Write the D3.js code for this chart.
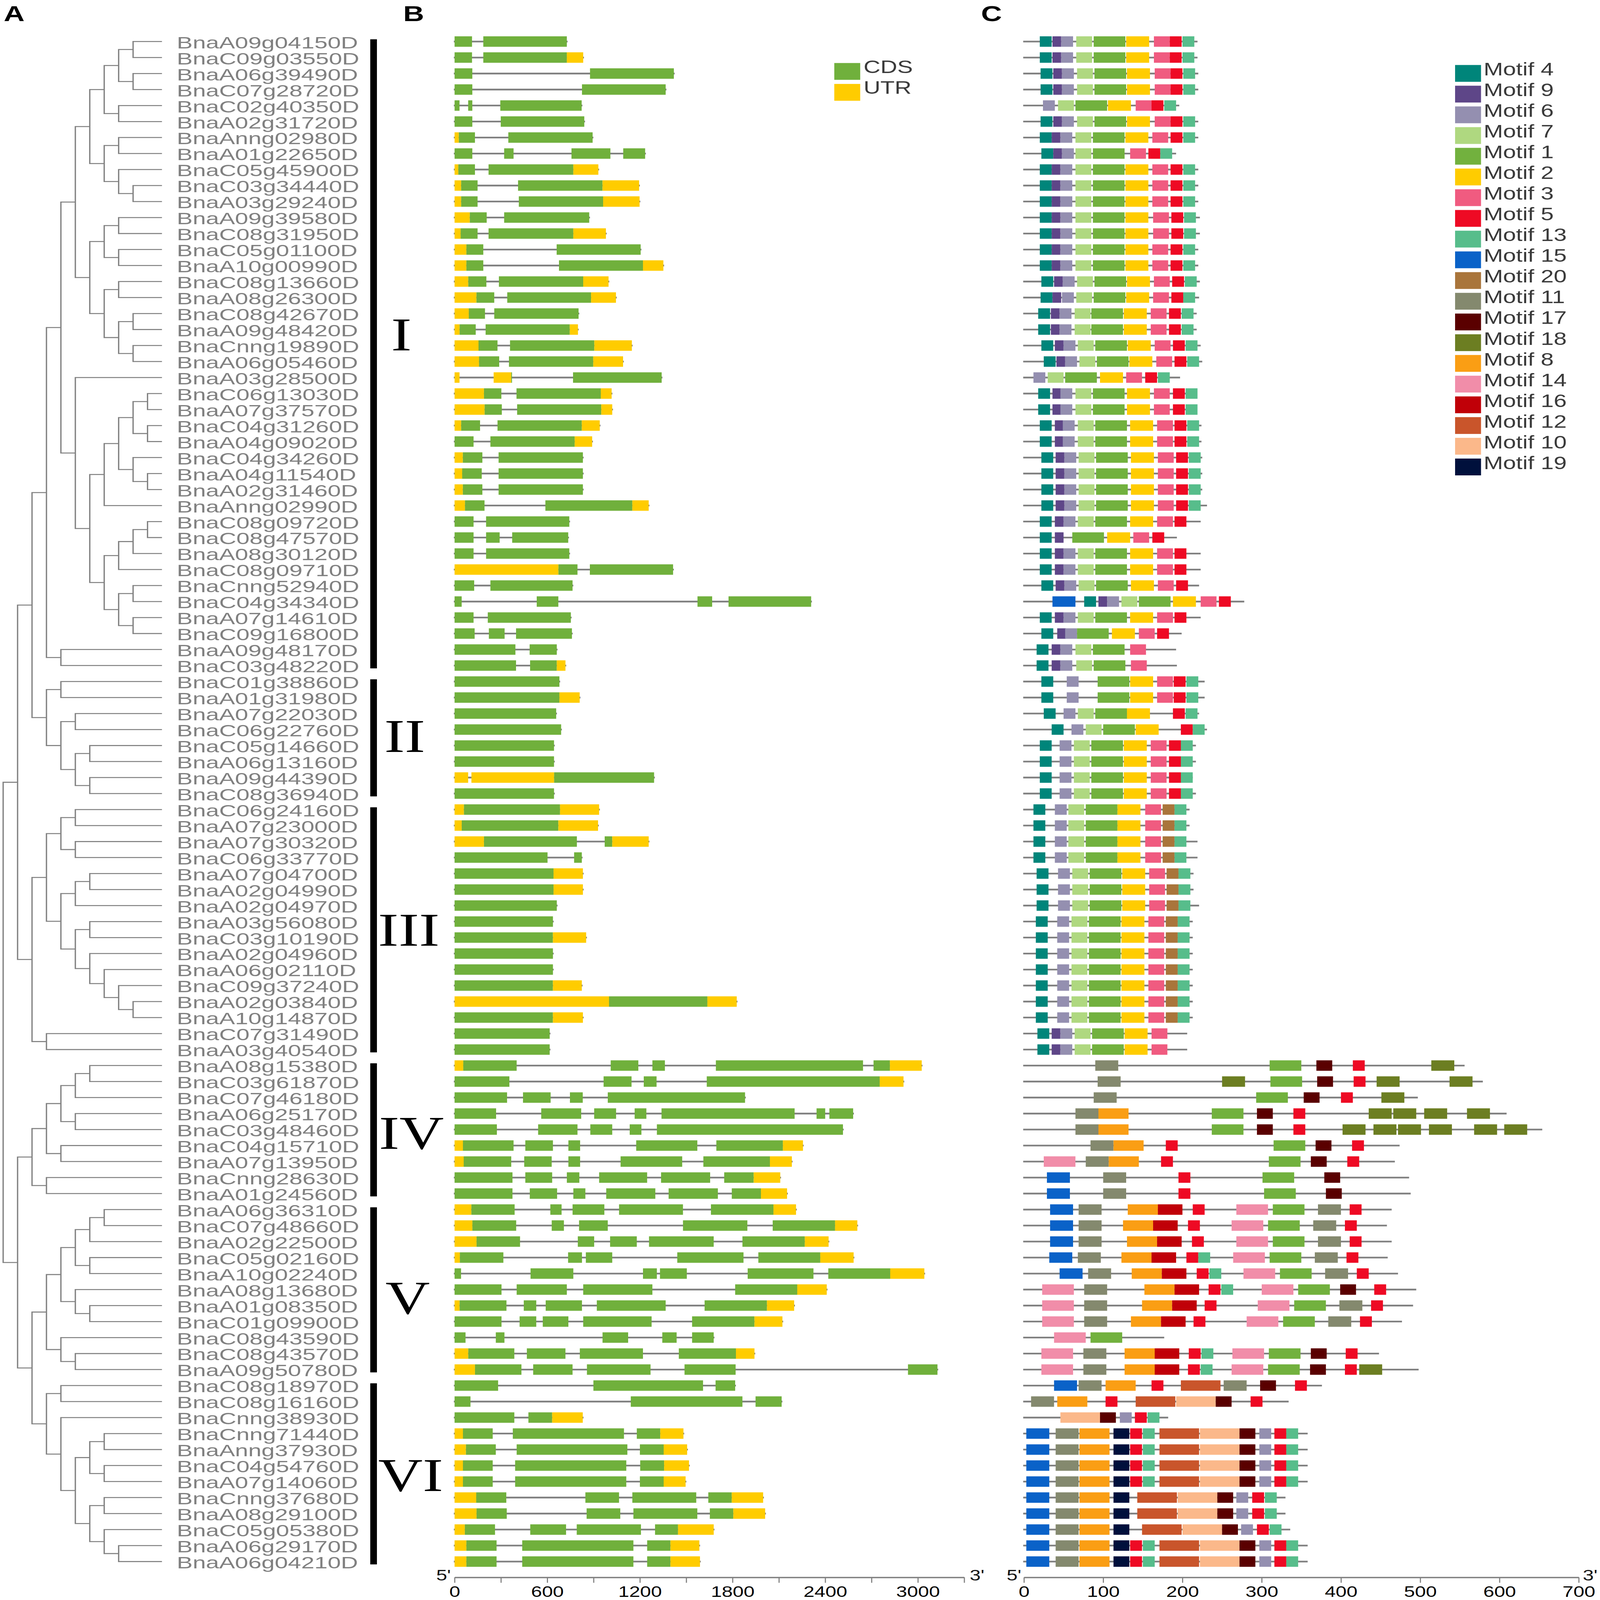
<!DOCTYPE html>
<html>
<head>
<meta charset="utf-8">
<script src="https://cdn.jsdelivr.net/npm/d3@7"></script>
<style>
  html, body { margin: 0; background: #fff; width: 100%; height: 100%; overflow: hidden; }
  text { font-family: "Liberation Sans", Arial, sans-serif; }
</style>
</head>
<body>
<div id="chart" style="width:100%;height:100%"></div>
<script>
const genes = ["BnaA09g04150D","BnaC09g03550D","BnaA06g39490D","BnaC07g28720D","BnaC02g40350D","BnaA02g31720D","BnaAnng02980D","BnaA01g22650D","BnaC05g45900D","BnaC03g34440D","BnaA03g29240D","BnaA09g39580D","BnaC08g31950D","BnaC05g01100D","BnaA10g00990D","BnaC08g13660D","BnaA08g26300D","BnaC08g42670D","BnaA09g48420D","BnaCnng19890D","BnaA06g05460D","BnaA03g28500D","BnaC06g13030D","BnaA07g37570D","BnaC04g31260D","BnaA04g09020D","BnaC04g34260D","BnaA04g11540D","BnaA02g31460D","BnaAnng02990D","BnaC08g09720D","BnaC08g47570D","BnaA08g30120D","BnaC08g09710D","BnaCnng52940D","BnaC04g34340D","BnaA07g14610D","BnaC09g16800D","BnaA09g48170D","BnaC03g48220D",
  "BnaC01g38860D","BnaA01g31980D","BnaA07g22030D","BnaC06g22760D","BnaC05g14660D","BnaA06g13160D","BnaA09g44390D","BnaC08g36940D",
  "BnaC06g24160D","BnaA07g23000D","BnaA07g30320D","BnaC06g33770D","BnaA07g04700D","BnaA02g04990D","BnaA02g04970D","BnaA03g56080D","BnaC03g10190D","BnaA02g04960D","BnaA06g02110D","BnaC09g37240D","BnaA02g03840D","BnaA10g14870D","BnaC07g31490D","BnaA03g40540D",
  "BnaA08g15380D","BnaC03g61870D","BnaC07g46180D","BnaA06g25170D","BnaC03g48460D","BnaC04g15710D","BnaA07g13950D","BnaCnng28630D","BnaA01g24560D",
  "BnaA06g36310D","BnaC07g48660D","BnaA02g22500D","BnaC05g02160D","BnaA10g02240D","BnaA08g13680D","BnaA01g08350D","BnaC01g09900D","BnaC08g43590D","BnaC08g43570D","BnaA09g50780D",
  "BnaC08g18970D","BnaC08g16160D","BnaCnng38930D","BnaCnng71440D","BnaAnng37930D","BnaC04g54760D","BnaA07g14060D","BnaCnng37680D","BnaA08g29100D","BnaC05g05380D","BnaA06g29170D","BnaA06g04210D"];

// subfamilies: name, first and last row
const groupNames = ["I","II","III","IV","V","VI"];
const groupFirst = [0,40,48,64,73,84];
const groupLast = [39,47,63,72,83,95];

// tree as nested row numbers, one level of nesting = one column
const tree = [
  [
    [
      [
        [
          [
            [[[[0,1],[2,3]],[4,5]],[[6,7],[8,[9,10]]]],
            [[[11,12],[13,14]],[[15,16],[[17,18],[19,20]]]]
          ],
          [21,[[[[[22,23],[24,25]],[26,[27,28]]],29],[[[[30,31],32],33],[[34,35],[36,37]]]]]
        ],
        [38,39]
      ],
      [[40,41],[[42,43],[[44,45],[46,47]]]]
    ],
    [
      [[[48,49],[50,51]],[[[52,53],54],[[55,56],[57,[58,[59,[60,61]]]]]]],
      [62,63]
    ]
  ],
  [
    [[[[[64,65],66],[67,68]],[69,70]],[71,72]],
    [
      [[[[[73,74],75],[76,77]],[78,[79,80]]],[81,[82,83]]],
      [[84,85],[86,[[[87,88],[89,90]],[[91,92],[93,[94,95]]]]]]
    ]
  ]
];

// exon spans in bp, per gene
const cdsSpans = [
  [[0,113],[186,727]],[[0,113],[186,727]],[[0,115],[877,1420]],[[0,115],[825,1367]],[[0,32],[88,115],[296,823]],
  [[0,115],[299,840]],[[27,132],[348,894]],[[0,115],[321,382],[757,1009],[1092,1234]],[[24,132],[220,769]],[[42,149],[411,958]],
  [[42,149],[416,962]],[[98,208],[321,872]],[[39,149],[220,769]],[[76,186],[661,1205]],[[76,186],[676,1220]],
  [[88,206],[287,833]],[[141,257],[341,884]],[[92,197],[257,803]],[[32,137],[201,746]],[[155,278],[359,905]],
  [[158,289],[352,898]],[[366,372],[767,1341]],[[190,303],[401,947]],[[194,306],[405,950]],[[42,165],[278,824]],
  [[0,123],[232,778]],[[53,180],[285,831]],[[49,176],[285,831]],[[53,180],[285,831]],[[67,194],[588,1151]],
  [[0,123],[204,743]],[[0,123],[204,292],[373,736]],[[0,123],[204,743]],[[672,796],[876,1415]],[[0,127],[232,764]],
  [[0,46],[532,672],[1573,1668],[1774,2309]],[[0,123],[215,753]],[[0,130],[222,324],[398,760]],[[0,394],[486,662]],[[0,398],[489,662]],
  [[0,679]],[[0,679]],[[0,658]],[[0,690]],[[0,644]],[[0,644]],[[644,1292]],[[0,644]],
  [[60,683]],[[46,672]],[[190,792],[972,1021]],[[0,602],[774,824]],[[0,641]],[[0,641]],[[0,662]],[[0,637]],
  [[0,637]],[[0,637]],[[0,637]],[[0,637]],[[1000,1637]],[[0,637]],[[0,616]],[[0,616]],
  [[56,402],[1011,1190],[1281,1362],[1692,2645],[2713,2819]],
  [[0,355],[965,1146],[1225,1308],[1633,2753]],
  [[0,340],[443,622],[747,830],[992,1881]],
  [[0,269],[561,820],[904,1046],[1166,1242],[1340,2202],[2344,2400],[2427,2581]],
  [[0,274],[541,796],[879,1021],[1134,1210],[1310,2515]],
  [[54,382],[458,637],[737,813],[1176,1572],[1695,2126]],
  [[59,367],[451,629],[737,813],[1075,1474],[1611,2042]],
  [[0,375],[458,632],[727,808],[936,1247],[1337,1655],[1746,1937]],
  [[0,375],[487,664],[769,847],[982,1300],[1386,1705],[1795,1984]],
  [[108,389],[620,693],[764,970],[1065,1479],[1660,2065]],
  [[115,399],[629,708],[806,992],[1479,1896],[2060,2464]],
  [[142,424],[798,904],[1007,1180],[1259,1678],[1864,2268]],
  [[34,316],[735,825],[850,1021],[1442,1871],[1967,2368]],
  [[0,42],[492,769],[1220,1310],[1330,1504],[1898,2324],[2420,2821]],
  [[0,304],[402,727],[833,1281],[1817,2219]],
  [[32,336],[448,529],[590,825],[921,1367],[1619,2023]],
  [[0,304],[421,529],[571,737],[833,1276],[1538,1942]],
  [[0,71],[267,323],[958,1124],[1345,1438],[1538,1678]],
  [[88,387],[468,718],[811,1220],[1452,1822]],
  [[132,433],[509,764],[857,1269],[1489,1820],[2936,3127]],
  [[0,282],[899,1609],[1690,1817]],
  [[0,103],[1141,1864],[1949,2118]],
  [[0,387],[478,632]],
  [[54,247],[377,1097],[1180,1332]],
  [[73,267],[402,1119],[1200,1354]],
  [[54,247],[392,1112],[1202,1357]],
  [[54,247],[392,1112],[1200,1354]],
  [[140,335],[847,1065],[1151,1565],[1643,1795]],
  [[142,338],[855,1073],[1158,1572],[1653,1805]],
  [[66,262],[490,722],[791,1207],[1298,1447]],
  [[76,272],[438,1158],[1247,1398]],
  [[76,272],[438,1158],[1247,1398]]
];

const utrSpans = [
  [],[[727,833]],[],[],[],
  [],[[0,27]],[],[[0,24],[769,931]],[[0,42],[958,1195]],
  [[0,42],[962,1198]],[[0,98]],[[0,39],[769,980]],[[0,76]],[[0,76],[1220,1352]],
  [[0,88],[833,997]],[[0,141],[884,1045]],[[0,92]],[[0,32],[746,799]],[[0,155],[905,1148]],
  [[0,158],[898,1091]],[[0,32],[253,366]],[[0,190],[947,1017]],[[0,194],[950,1021]],[[0,42],[824,940]],
  [[778,891]],[[0,53]],[[0,49]],[[0,53]],[[0,67],[1151,1257]],
  [],[],[],[[0,672]],[],
  [],[],[],[],[[662,718]],
  [],[[679,810]],[],[],[],[],[[0,88],[109,644]],[],
  [[0,60],[683,936]],[[0,46],[672,929]],[[0,190],[1021,1257]],[],[[641,831]],[[641,831]],[],[],
  [[637,852]],[],[],[[637,824]],[[0,1000],[1637,1827]],[[637,831]],[],[],
  [[0,56],[2819,3025]],[[2753,2907]],[],[],[],
  [[0,54],[2126,2256]],[[0,59],[2042,2184]],[[1937,2109]],[[1984,2153]],
  [[0,108],[2065,2211]],[[0,115],[2464,2608]],[[0,142],[2268,2422]],[[0,34],[2368,2584]],[[2821,3042]],
  [[2219,2410]],[[0,32],[2023,2199]],[[1942,2123]],[],[[0,88],[1822,1942]],[[0,132]],
  [],[],[[632,830]],
  [[0,54],[1332,1482]],[[0,73],[1354,1506]],[[0,54],[1357,1518]],[[0,54],[1354,1496]],
  [[0,140],[1795,1998]],[[0,142],[1805,2011]],[[0,66],[1447,1678]],[[0,76],[1398,1585]],[[0,76],[1398,1589]]
];

const proteinLength = [219,219,220,220,196,220,220,192,220,220,220,222,222,220,220,222,221,218,218,223,225,197,218,218,224,224,225,225,225,231,223,193,223,223,221,278,223,199,192,193,
  228,228,221,231,217,217,213,217,209,209,219,219,214,214,221,213,213,213,213,213,213,213,206,206,
  556,579,497,609,654,474,468,486,488,464,458,464,459,472,495,491,477,177,448,498,376,334,182,358,358,358,358,330,330,336,358,358];

// motif hits per gene: [motif, start aa]
const motifHits = [
  [[4,20],[9,36],[6,47],[7,66],[1,88],[2,129],[3,164],[5,184],[13,200]],
  [[4,20],[9,36],[6,47],[7,66],[1,88],[2,129],[3,164],[5,184],[13,200]],
  [[4,21],[9,37],[6,48],[7,67],[1,89],[2,130],[3,165],[5,185],[13,201]],
  [[4,21],[9,37],[6,48],[7,67],[1,89],[2,130],[3,165],[5,185],[13,201]],
  [[6,24],[7,43],[1,65],[2,106],[3,141],[5,161],[13,177]],
  [[4,21],[9,37],[6,48],[7,67],[1,89],[2,130],[3,165],[5,185],[13,201]],
  [[4,20],[9,35],[6,46],[7,65],[1,87],[2,128],[3,162],[5,185],[13,201]],
  [[4,22],[9,37],[6,48],[7,65],[1,87],[3,134],[5,157],[13,172]],
  [[4,20],[9,35],[6,46],[7,65],[1,87],[2,128],[3,162],[5,185],[13,201]],
  [[4,20],[9,35],[6,46],[7,65],[1,87],[2,128],[3,162],[5,185],[13,201]],
  [[4,20],[9,35],[6,46],[7,65],[1,87],[2,128],[3,162],[5,185],[13,201]],
  [[4,20],[9,35],[6,46],[7,65],[1,87],[2,128],[3,163],[5,186],[13,202]],
  [[4,20],[9,35],[6,46],[7,65],[1,87],[2,128],[3,163],[5,186],[13,202]],
  [[4,20],[9,35],[6,46],[7,65],[1,87],[2,128],[3,162],[5,185],[13,201]],
  [[4,20],[9,35],[6,46],[7,65],[1,87],[2,128],[3,162],[5,185],[13,201]],
  [[4,22],[9,38],[6,49],[7,67],[1,89],[2,130],[3,164],[5,187],[13,203]],
  [[4,21],[9,36],[6,48],[7,66],[1,88],[2,129],[3,163],[5,186],[13,201]],
  [[4,18],[9,34],[6,45],[7,64],[1,85],[2,126],[3,160],[5,183],[13,199]],
  [[4,18],[9,34],[6,45],[7,64],[1,85],[2,126],[3,160],[5,183],[13,199]],
  [[4,22],[9,39],[6,50],[7,68],[1,90],[2,131],[3,165],[5,188],[13,204]],
  [[4,25],[9,41],[6,52],[7,70],[1,92],[2,133],[3,167],[5,190],[13,206]],
  [[6,12],[7,30],[1,52],[2,96],[3,129],[5,153],[13,169]],
  [[4,18],[9,36],[6,46],[7,65],[1,87],[2,130],[3,164],[5,188],[13,204]],
  [[4,18],[9,36],[6,46],[7,65],[1,87],[2,130],[3,164],[5,188],[13,204]],
  [[4,20],[9,39],[6,49],[7,68],[1,90],[2,134],[3,168],[5,190],[13,206]],
  [[4,20],[9,39],[6,49],[7,68],[1,90],[2,134],[3,168],[5,190],[13,206]],
  [[4,22],[9,40],[6,51],[7,69],[1,91],[2,135],[3,169],[5,192],[13,208]],
  [[4,22],[9,40],[6,51],[7,69],[1,91],[2,135],[3,169],[5,192],[13,208]],
  [[4,22],[9,40],[6,51],[7,69],[1,91],[2,135],[3,169],[5,192],[13,208]],
  [[4,22],[9,40],[6,51],[7,69],[1,91],[2,135],[3,169],[5,192],[13,208]],
  [[4,20],[9,39],[6,50],[7,68],[1,90],[2,134],[3,168],[5,190]],
  [[4,20],[9,39],[1,61],[2,105],[3,138],[5,162]],
  [[4,20],[9,39],[6,50],[7,68],[1,90],[2,134],[3,168],[5,190]],
  [[4,20],[9,39],[6,50],[7,68],[1,90],[2,134],[3,168],[5,190]],
  [[4,22],[9,40],[6,51],[7,69],[1,91],[2,135],[3,169],[5,192]],
  [[15,36],[4,76],[9,94],[6,105],[7,123],[1,145],[2,188],[3,223],[5,246]],
  [[4,20],[9,39],[6,50],[7,68],[1,90],[2,134],[3,168],[5,190]],
  [[4,22],[9,42],[6,52],[1,67],[2,111],[3,145],[5,168]],
  [[4,16],[9,35],[6,46],[7,65],[1,87],[3,134]],
  [[4,16],[9,35],[6,46],[7,66],[1,88],[3,135]],
  [[4,22],[6,54],[1,93],[2,134],[3,168],[5,189],[13,205]],
  [[4,22],[6,54],[1,93],[2,134],[3,168],[5,189],[13,205]],
  [[4,25],[6,50],[7,68],[1,90],[2,130],[5,188],[13,204]],
  [[4,35],[6,60],[7,78],[1,100],[2,141],[5,198],[13,213]],
  [[4,20],[6,45],[7,63],[1,85],[2,126],[3,160],[5,183],[13,198]],
  [[4,20],[6,45],[7,63],[1,85],[2,126],[3,160],[5,183],[13,198]],
  [[4,20],[6,45],[7,63],[1,85],[2,126],[3,160],[5,183],[13,198]],
  [[4,20],[6,45],[7,63],[1,85],[2,126],[3,160],[5,183],[13,198]],
  [[4,12],[6,39],[7,56],[1,78],[2,118],[3,153],[20,175],[13,190]],
  [[4,12],[6,39],[7,56],[1,78],[2,118],[3,153],[20,175],[13,190]],
  [[4,12],[6,39],[7,56],[1,78],[2,118],[3,153],[20,175],[13,190]],
  [[4,12],[6,39],[7,56],[1,78],[2,118],[3,153],[20,175],[13,190]],
  [[4,16],[6,43],[7,61],[1,83],[2,124],[3,158],[20,180],[13,195]],
  [[4,16],[6,43],[7,61],[1,83],[2,124],[3,158],[20,180],[13,195]],
  [[4,16],[6,43],[7,61],[1,83],[2,124],[3,158],[20,180],[13,195]],
  [[4,15],[6,42],[7,60],[1,82],[2,123],[3,157],[20,179],[13,194]],
  [[4,15],[6,42],[7,60],[1,82],[2,123],[3,157],[20,179],[13,194]],
  [[4,15],[6,42],[7,60],[1,82],[2,123],[3,157],[20,179],[13,194]],
  [[4,15],[6,42],[7,60],[1,82],[2,123],[3,157],[20,179],[13,194]],
  [[4,15],[6,42],[7,60],[1,82],[2,123],[3,157],[20,179],[13,194]],
  [[4,15],[6,42],[7,60],[1,82],[2,123],[3,157],[20,179],[13,194]],
  [[4,15],[6,42],[7,60],[1,82],[2,123],[3,157],[20,179],[13,194]],
  [[4,17],[9,35],[6,46],[7,64],[1,86],[2,127],[3,161]],
  [[4,17],[9,35],[6,46],[7,64],[1,86],[2,127],[3,161]],
  [[11,90],[1,310],[17,369],[5,415],[18,514]],
  [[11,93],[18,250],[1,311],[17,370],[5,416],[18,445],[18,537]],
  [[11,88],[1,293],[17,353],[5,400],[18,451]],
  [[11,65],[8,94],[1,237],[17,294],[5,340],[18,435],[18,466],[18,505],[18,559]],
  [[11,65],[8,94],[1,237],[17,294],[5,340],[18,402],[18,441],[18,472],[18,511],[18,568],[18,606]],
  [[11,84],[8,113],[5,179],[1,315],[17,368],[5,414]],
  [[14,25],[11,78],[8,107],[5,173],[1,309],[17,362],[5,408]],
  [[15,29],[11,100],[5,195],[1,301],[17,379]],
  [[15,29],[11,100],[5,195],[1,303],[17,381]],
  [[15,33],[11,69],[8,131],[16,169],[5,213],[14,268],[1,314],[11,371],[5,411]],
  [[15,33],[11,69],[8,125],[16,163],[5,207],[14,262],[1,308],[11,365],[5,405]],
  [[15,33],[11,69],[8,130],[16,168],[5,212],[14,268],[1,314],[11,371],[5,411]],
  [[15,32],[11,68],[8,123],[16,161],[5,205],[13,220],[14,264],[1,310],[11,367],[5,407]],
  [[15,45],[11,81],[8,136],[16,174],[5,218],[13,234],[14,277],[1,323],[11,380],[5,420]],
  [[14,23],[11,76],[8,152],[16,190],[5,233],[13,249],[14,300],[1,346],[17,399],[5,442]],
  [[14,23],[11,76],[8,149],[16,187],[5,228],[14,295],[1,341],[11,398],[5,438]],
  [[14,23],[11,76],[8,135],[16,173],[5,214],[14,281],[1,327],[11,384],[5,424]],
  [[14,38],[1,84]],
  [[14,22],[11,75],[8,127],[16,165],[5,208],[13,224],[14,263],[1,309],[17,362],[5,406]],
  [[14,22],[11,75],[8,127],[16,165],[5,207],[13,223],[14,262],[1,308],[17,361],[5,405],[18,423]],
  [[15,38],[11,69],[8,103],[5,161],[12,198],[11,252],[17,298],[5,342]],
  [[11,9],[8,42],[5,103],[12,141],[10,192],[17,242],[5,286]],
  [[10,46],[17,96],[6,121],[5,140],[13,156]],
  [[15,3],[11,40],[8,70],[19,113],[5,134],[13,150],[12,171],[10,222],[17,272],[6,297],[5,316],[13,331]],
  [[15,3],[11,40],[8,70],[19,113],[5,134],[13,150],[12,171],[10,222],[17,272],[6,297],[5,316],[13,331]],
  [[15,3],[11,40],[8,70],[19,113],[5,134],[13,150],[12,171],[10,222],[17,272],[6,297],[5,316],[13,331]],
  [[15,3],[11,40],[8,70],[19,113],[5,134],[13,150],[12,171],[10,222],[17,272],[6,297],[5,316],[13,331]],
  [[15,3],[11,40],[8,70],[19,113],[12,143],[10,194],[17,244],[6,268],[5,288],[13,304]],
  [[15,3],[11,40],[8,70],[19,113],[12,143],[10,194],[17,244],[6,268],[5,288],[13,304]],
  [[15,3],[11,40],[8,70],[19,113],[12,149],[10,200],[17,250],[6,274],[5,294],[13,310]],
  [[15,3],[11,40],[8,70],[19,113],[5,134],[13,150],[12,171],[10,222],[17,272],[6,297],[5,316],[13,331]],
  [[15,3],[11,40],[8,70],[19,113],[5,134],[13,150],[12,171],[10,222],[17,272],[6,297],[5,316],[13,331]]
];

// legend order, motif width in aa and colour
const motifOrder = [4,9,6,7,1,2,3,5,13,15,20,11,17,18,8,14,16,12,10,19];
const motifWidths = [15,11,15,20,40,29,20,15,15,29,15,29,20,29,38,40,31,50,50,20];
const motifColors = ["#00857a","#5e4688","#948fb0","#afd880","#72b13e","#ffcc00","#f05b80","#ee0a24","#57bd8b","#0a62c8","#a9753b","#84896e","#5a0000","#6c7e22","#fa9e14","#f18da9","#c00008","#c9552b","#fbb88a","#00103c"];

const exonLegend = ["CDS","UTR"];
const exonColors = ["#70b03c","#ffcc00"];

const width = 4317;
const height = 5662;
const gray = "#808080";
const barH = 37;

// drawn in a 4317x5662 box, scaled to whatever window it gets
const svg = d3.select("#chart").append("svg")
  .attr("viewBox", `0 0 ${width} ${height}`)
  .attr("preserveAspectRatio", "none")
  .attr("width", "100%")
  .attr("height", "100%")
  .style("display", "block");

const rowY = d3.scaleLinear().domain([0, 95]).range([147, 5526]);
const xGene = d3.scaleLinear().domain([0, 3300]).range([1226.5, 2601.5]);
const xMotif = d3.scaleLinear().domain([0, 700]).range([2762.7, 4259.6]);
const motifColor = d3.scaleOrdinal().domain(motifOrder).range(motifColors);
const motifWidth = d3.scaleOrdinal().domain(motifOrder).range(motifWidths);

// panel letters
svg.selectAll(".panel")
  .data([["A", 10], ["B", 1088], ["C", 2647]])
  .enter().append("text")
  .attr("x", d => d[1])
  .attr("y", 75)
  .attr("font-size", 78)
  .attr("font-weight", "bold")
  .text(d => d[0]);

// ---- A: tree
const root = d3.hierarchy(tree, d => Array.isArray(d) ? d : null);
const colX = d3.scaleLinear().domain([0, 11]).range([437, 8.5]);
root.eachAfter(n => {
  if (n.children) {
    n.py = d3.mean(n.children, c => c.py);
    n.px = colX(11 - n.depth);
  } else {
    n.py = rowY(n.data);
    n.px = colX(0);
  }
});

svg.append("g")
  .attr("fill", "none")
  .attr("stroke", gray)
  .attr("stroke-width", 3.5)
  .selectAll("path")
  .data(root.descendants().filter(n => n.children))
  .enter().append("path")
  .attr("d", n => n.children.map(c => `M${c.px},${c.py}H${n.px}`).join("")
    + `M${n.px},${n.children[0].py - 1.75}V${n.children[1].py + 1.75}`);

svg.append("g")
  .selectAll("text")
  .data(genes)
  .enter().append("text")
  .attr("transform", (d, i) => `translate(477,${rowY(i) + 24}) scale(1.07,1)`)
  .attr("font-size", 60)
  .attr("fill", gray)
  .text(d => d);

// subfamily bars and numerals
svg.append("g")
  .selectAll("rect")
  .data(groupNames)
  .enter().append("rect")
  .attr("x", 999)
  .attr("width", 18)
  .attr("y", (d, i) => rowY(groupFirst[i]) - 8)
  .attr("height", (d, i) => rowY(groupLast[i]) - rowY(groupFirst[i]) + 18)
  .attr("fill", "#000");

const numeralX = [1083, 1092, 1103, 1110, 1100, 1108];
const numeralRow = [19.3, 44.4, 56.5, 69.2, 79.5, 90.6];
svg.append("g")
  .selectAll("text")
  .data(groupNames)
  .enter().append("text")
  .attr("x", (d, i) => numeralX[i])
  .attr("y", (d, i) => rowY(numeralRow[i]))
  .attr("text-anchor", "middle")
  .attr("font-size", 166)
  .style("font-family", "'Liberation Serif', 'Times New Roman', serif")
  .text(d => d);

// ---- B: gene structures
const geneRow = svg.append("g")
  .selectAll("g")
  .data(genes)
  .enter().append("g")
  .attr("transform", (d, i) => `translate(0,${rowY(i)})`);

geneRow.append("line")
  .attr("x1", xGene(0) - 2)
  .attr("x2", (d, i) => xGene(d3.max(cdsSpans[i].concat(utrSpans[i]), s => s[1])) + 2)
  .attr("stroke", gray)
  .attr("stroke-width", 6);

geneRow.selectAll(".cds")
  .data((d, i) => cdsSpans[i])
  .enter().append("rect")
  .attr("class", "cds")
  .attr("x", s => xGene(s[0]))
  .attr("width", s => xGene(s[1]) - xGene(s[0]))
  .attr("y", -barH / 2)
  .attr("height", barH)
  .attr("fill", exonColors[0]);

geneRow.selectAll(".utr")
  .data((d, i) => utrSpans[i])
  .enter().append("rect")
  .attr("class", "utr")
  .attr("x", s => xGene(s[0]))
  .attr("width", s => xGene(s[1]) - xGene(s[0]))
  .attr("y", -barH / 2)
  .attr("height", barH)
  .attr("fill", exonColors[1]);

// ---- C: motifs
const motifRow = svg.append("g")
  .selectAll("g")
  .data(genes)
  .enter().append("g")
  .attr("transform", (d, i) => `translate(0,${rowY(i)})`);

motifRow.append("line")
  .attr("x1", xMotif(0) - 2)
  .attr("x2", (d, i) => xMotif(proteinLength[i]))
  .attr("stroke", gray)
  .attr("stroke-width", 6);

motifRow.selectAll("rect")
  .data((d, i) => motifHits[i])
  .enter().append("rect")
  .attr("x", h => xMotif(h[1]))
  .attr("width", h => xMotif(h[1] + motifWidth(h[0])) - xMotif(h[1]))
  .attr("y", -barH / 2)
  .attr("height", barH)
  .attr("fill", h => motifColor(h[0]));

// ---- axes
function drawAxis(scale, tickVals, every) {
  const g = svg.append("g")
    .attr("transform", "translate(0,5582)")
    .call(d3.axisBottom(scale)
      .tickValues(tickVals)
      .tickSize(19)
      .tickSizeOuter(0)
      .tickPadding(13)
      .tickFormat(d => d % every === 0 ? d : ""));
  g.select(".domain").attr("stroke", gray).attr("stroke-width", 5);
  g.selectAll(".tick line").attr("stroke", gray).attr("stroke-width", 3);
  g.selectAll(".tick text")
    .attr("fill", "#000")
    .style("font-size", "53px")
    .style("font-family", "'Liberation Sans', Arial, sans-serif");
}
drawAxis(xGene, d3.range(0, 3301, 300), 600);
drawAxis(xMotif, d3.range(0, 701, 100), 100);

const endLabels = [
  ["5'", xGene(0) - 10, "end"], ["3'", xGene(3300) + 15, "start"],
  ["5'", xMotif(0) - 7, "end"], ["3'", xMotif(700) + 11, "start"]
];
svg.append("g")
  .selectAll("text")
  .data(endLabels)
  .enter().append("text")
  .attr("x", d => d[1])
  .attr("y", 5593)
  .attr("text-anchor", d => d[2])
  .attr("font-size", 53)
  .attr("fill", "#111")
  .text(d => d[0]);

// ---- legends
const exonKey = svg.append("g")
  .selectAll("g")
  .data(exonLegend)
  .enter().append("g")
  .attr("transform", (d, i) => `translate(2251,${223 + i * 74})`);
exonKey.append("rect")
  .attr("width", 70)
  .attr("height", 59.5)
  .attr("fill", (d, i) => exonColors[i]);
exonKey.append("text")
  .attr("x", 79)
  .attr("y", 35)
  .attr("font-size", 63)
  .attr("fill", "#3a3a3a")
  .text(d => d);

const motifKey = svg.append("g")
  .selectAll("g")
  .data(motifOrder)
  .enter().append("g")
  .attr("transform", (d, i) => `translate(3926,${230 + i * 73.3})`);
motifKey.append("rect")
  .attr("width", 70)
  .attr("height", 59.5)
  .attr("fill", d => motifColor(d));
motifKey.append("text")
  .attr("x", 77)
  .attr("y", 37)
  .attr("font-size", 63)
  .attr("fill", "#3a3a3a")
  .text(d => `Motif ${d}`);
</script>
</body>
</html>
